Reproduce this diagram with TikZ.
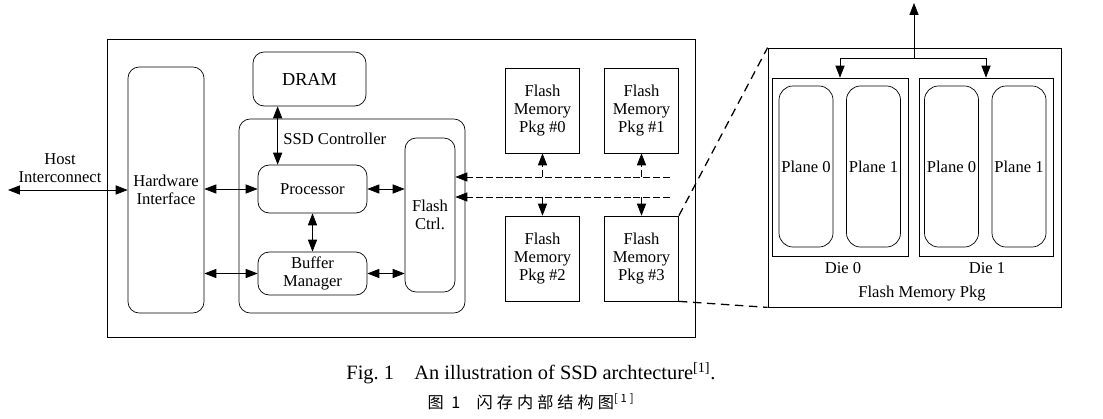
\documentclass[tikz,border=0pt]{standalone}
\usepackage{fontspec}
\setmainfont{Liberation Serif}
\newfontfamily\cjk[LetterSpace=25]{Noto Sans CJK SC}
\usepackage{tikz}
\usetikzlibrary{positioning}
\usetikzlibrary{arrows.meta}

\tikzset{
  blk/.style={draw, rounded corners=8pt, align=center, inner sep=1pt},
  pkgbox/.style={draw, align=center, inner sep=1pt, minimum width=1.85cm, minimum height=2.125cm},
  plane/.style={draw, rounded corners=10pt, align=center, inner sep=1pt, minimum width=1.35cm, minimum height=4.025cm},
  diebox/.style={draw, minimum height=4.45cm},
  bus/.style={dash pattern=on 5pt off 2pt},
  zoomline/.style={line width=0.9pt, dash pattern=on 6pt off 4pt},
}

\begin{document}
\begin{tikzpicture}[x=0.025cm, y=-0.025cm, line width=0.5pt,
    >={Triangle[length=8.5pt,width=6.5pt]}, font=\fontsize{11.8}{13}\selectfont]
\useasboundingbox (0,0) rectangle (1103,419);

% SSD
\node[draw, minimum width=14.7cm, minimum height=7.45cm] (ssd) at (401,188) {};
\node[blk, minimum width=1.9cm, minimum height=6.15cm] (hwif) at (166,190) {Hardware\\Interface};
\node[blk, minimum width=2.825cm, minimum height=1.35cm, font=\fontsize{13}{14}\selectfont] (dram) at (309.5,79) {DRAM};
\node[blk, minimum width=5.65cm, minimum height=4.85cm] (ctrl) at (352,216) {};
\node[anchor=west, inner sep=0pt] (ctrllbl) at (283,139) {SSD Controller};
\node[blk, minimum width=2.725cm, minimum height=1.2cm] (proc) at (312.5,189) {Processor};
\node[blk, minimum width=2.725cm, minimum height=1.075cm] (buf) at (312.5,273.5) {Buffer\\Manager};
\node[blk, minimum width=1.25cm, minimum height=3.85cm] (fctrl) at (430,215) {Flash\\Ctrl.};

% flash packages
\node[pkgbox] (pkg0) at (542.5,110.5) {Flash\\Memory\\Pkg \#0};
\node[pkgbox] (pkg1) at (641.5,110.5) {Flash\\Memory\\Pkg \#1};
\node[pkgbox] (pkg2) at (542.5,258.5) {Flash\\Memory\\Pkg \#2};
\node[pkgbox] (pkg3) at (641.5,258.5) {Flash\\Memory\\Pkg \#3};

\node[align=center, inner sep=0pt] (hostlbl) at (60,168) {Host\\Interconnect};
\coordinate (host) at (8,190);
\coordinate (busA) at (670,177);
\coordinate (busB) at (670,197);

\draw[<->] (host) -- (hwif.west);
\draw[<->] (hwif.east |- proc) -- (proc.west);
\draw[<->] (hwif.east |- buf) -- (buf.west);
\draw[<->] (proc.east) -- (proc.east -| fctrl.west);
\draw[<->] (buf.east) -- (buf.east -| fctrl.west);
\draw[<->] ([xshift=0.5cm]proc.north west) -- ([xshift=0.5cm]proc.north west |- dram.south);
\draw[<->] (proc.south) -- (buf.north);

\draw[bus, ->] (busA) -- (busA -| fctrl.east);
\draw[bus, ->] (busB) -- (busB -| fctrl.east);
\draw[bus, ->] (busA -| pkg0) -- (pkg0.south);
\draw[bus, ->] (busA -| pkg1) -- (pkg1.south);
\draw[bus, ->] (busB -| pkg2) -- (pkg2.north);
\draw[bus, ->] (busB -| pkg3) -- (pkg3.north);

% flash memory package detail
\node[draw, minimum width=7.325cm, minimum height=6.475cm] (fmp) at (914.5,177.5) {};
\node[diebox, minimum width=3.4cm] (die0) at (840,167) {};
\node[diebox, minimum width=3.35cm] (die1) at (986,167) {};
\node[plane] (p00) at (806,166.5) {Plane 0};
\node[plane] (p01) at (873.5,166.5) {Plane 1};
\node[plane] (p10) at (951.5,166.5) {Plane 0};
\node[plane] (p11) at (1019,166.5) {Plane 1};
\node (die0lbl) at (843,268) {Die 0};
\node (die1lbl) at (987,268) {Die 1};
\node (fmplbl) at (922,294) {Flash Memory Pkg};

\coordinate (br) at (914,58);
\coordinate (out) at (914,3);
\draw[->] (br) -- (out);
\draw[->] (br) -| (die0.north);
\draw[->] (br) -| (die1.north);

\draw[zoomline] (pkg3.north east) -- (fmp.north west);
\draw[zoomline] (pkg3.south east) -- (fmp.south west);

% caption
\node[font=\fontsize{14.5}{16}\selectfont] (capen) at (531,373) {Fig.~1\quad An illustration of SSD archtecture\textsuperscript{[1]}.};
\node[font=\fontsize{11.5}{13}\selectfont] (capcn) at (531,402) {\cjk 图 1\quad 闪存内部结构图\textsuperscript{[1]}};
\end{tikzpicture}
\end{document}
